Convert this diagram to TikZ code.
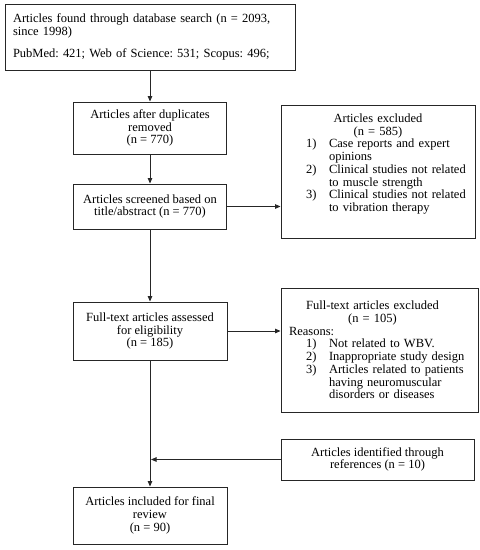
\documentclass[tikz,border=0pt]{standalone}
\usepackage{fontspec}
\setmainfont{Liberation Serif}
\usetikzlibrary{arrows.meta}
\frenchspacing
\newcommand\myitem[2]{\par\noindent\hangindent=40pt\hangafter=1\hspace*{17pt}\makebox[23pt][l]{#1}#2}
\begin{document}
\begin{tikzpicture}[x=1pt,y=-1pt,
  every node/.style={font=\fontsize{12.5pt}{12.7pt}\selectfont},
  box/.style={draw=black!85, line width=0.9pt, rectangle, inner sep=0pt},
  ctext/.style={box, align=center},
  conn/.style={draw=black!85, line width=0.9pt, -{Triangle[length=5.5pt,width=4.5pt]}}]
\useasboundingbox (0,0) rectangle (480,550);
% left column
\node[box, minimum width=290pt, minimum height=66pt, text width=274pt, align=left] (b1) at (150,37)
  {Articles found through database search (n = 2093,\\since 1998)\\[9pt]PubMed: 421; Web of Science: 531; Scopus: 496;};
\node[ctext, minimum width=153pt, minimum height=52pt] (b2) at (150,128)
  {Articles after duplicates\\removed\\(n = 770)};
\node[ctext, minimum width=153pt, minimum height=45pt] (b3) at (150,206.5)
  {Articles screened based on\\title/abstract (n = 770)};
\node[ctext, minimum width=154pt, minimum height=58pt] (b4) at (150,331)
  {Full-text articles assessed\\for eligibility\\(n = 185)};
\node[ctext, minimum width=154pt, minimum height=57pt] (b5) at (150,515.5)
  {Articles included for final\\review\\(n = 90)};
% right column
\node[box, minimum width=194pt, minimum height=133pt, text width=178pt, align=left] (r1) at (378,171.5)
  {\centering Articles excluded\\(n = 585)\par
   \raggedright
   \myitem{1)}{Case reports and expert\newline opinions}
   \myitem{2)}{Clinical studies not related\newline to muscle strength}
   \myitem{3)}{Clinical studies not related\newline to vibration therapy}\par
   \vspace*{5pt}\noindent\mbox{}};
\node[box, minimum width=197pt, minimum height=124pt, text width=181pt, align=left] (r2) at (379.5,350)
  {\centering\hspace*{-14pt}Full-text articles excluded\\\hspace*{-14pt}(n = 105)\par
   \raggedright\noindent Reasons:
   \myitem{1)}{Not related to WBV.}
   \myitem{2)}{Inappropriate study design}
   \myitem{3)}{Articles related to patients\newline having neuromuscular\newline disorders or diseases}\par};
\node[ctext, minimum width=193pt, minimum height=41pt] (r3) at (377.5,459.5)
  {Articles identified through\\references (n = 10)};
% connectors
\coordinate (j) at (b4.south |- r3.west);
\draw[conn] (b1.south) -- (b2.north);
\draw[conn] (b2.south) -- (b3.north);
\draw[conn] (b3.south) -- (b4.north);
\draw[conn] (b3.east) -- (b3.east -| r1.west);
\draw[conn] (b4.east) -- (b4.east -| r2.west);
\draw[conn] (b4.south) -- (b5.north);
\draw[conn] (r3.west) -- ([xshift=1pt]j);
\end{tikzpicture}
\end{document}
